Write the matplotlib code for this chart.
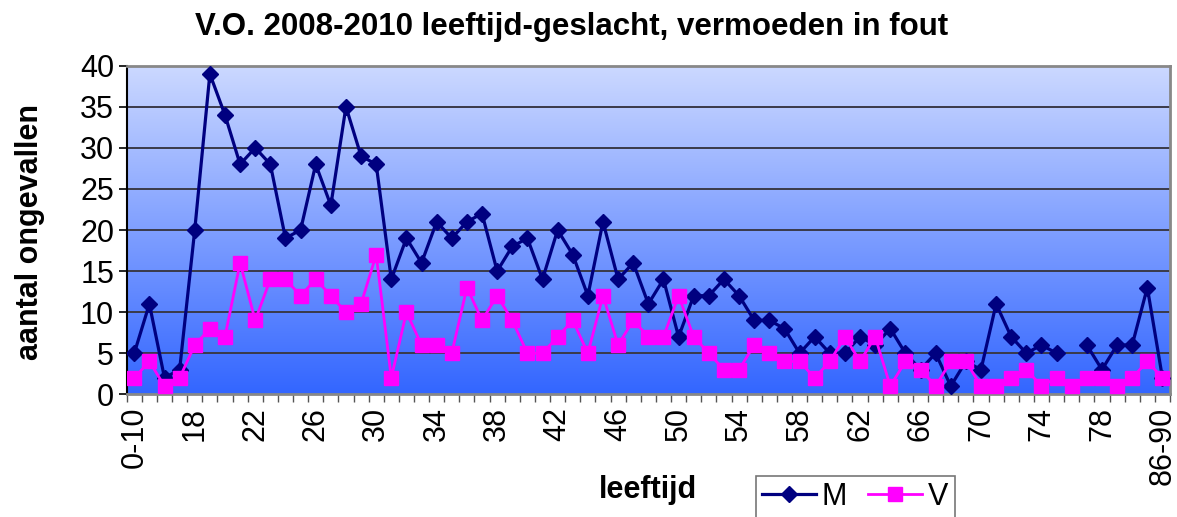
import matplotlib
matplotlib.use("Agg")
import matplotlib.pyplot as plt
from matplotlib.lines import Line2D
import numpy as np

plt.rcParams['font.family'] = ['Liberation Sans', 'DejaVu Sans']

categories = ["0-10", "11-14", "15-16", "17", "18", "19", "20", "21", "22", "23",
              "24", "25", "26", "27", "28", "29", "30", "31", "32", "33",
              "34", "35", "36", "37", "38", "39", "40", "41", "42", "43",
              "44", "45", "46", "47", "48", "49", "50", "51", "52", "53",
              "54", "55", "56", "57", "58", "59", "60", "61", "62", "63",
              "64", "65", "66", "67", "68", "69", "70", "71", "72", "73",
              "74", "75", "76", "77", "78", "79", "80", "81-85", "86-90"]

M = [5, 11, 2, 3, 20, 39, 34, 28, 30, 28,
     19, 20, 28, 23, 35, 29, 28, 14, 19, 16,
     21, 19, 21, 22, 15, 18, 19, 14, 20, 17,
     12, 21, 14, 16, 11, 14, 7, 12, 12, 14,
     12, 9, 9, 8, 5, 7, 5, 5, 7, 6,
     8, 5, 3, 5, 1, 4, 3, 11, 7, 5,
     6, 5, np.nan, 6, 3, 6, 6, 13, 2]

V = [2, 4, 1, 2, 6, 8, 7, 16, 9, 14,
     14, 12, 14, 12, 10, 11, 17, 2, 10, 6,
     6, 5, 13, 9, 12, 9, 5, 5, 7, 9,
     5, 12, 6, 9, 7, 7, 12, 7, 5, 3,
     3, 6, 5, 4, 4, 2, 4, 7, 4, 7,
     1, 4, 3, 1, 4, 4, 1, 1, 2, 3,
     1, 2, 1, 2, 2, 1, 2, 4, 2]

title = "V.O. 2008-2010 leeftijd-geslacht, vermoeden in fout"
ylabel = "aantal ongevallen"
xlabel = "leeftijd"
yticks = [0, 5, 10, 15, 20, 25, 30, 35, 40]

W, H = 1177, 517
fig = plt.figure(figsize=(W / 100, H / 100), dpi=100)
L, R, T, B = 126.7, 1170, 65.7, 394.3
ax = fig.add_axes([L / W, 1 - B / H, (R - L) / W, (B - T) / H])

x = np.arange(len(categories))
n = len(categories)

# gradient background
top = np.array([0.80, 0.85, 1.0])
bot = np.array([0.20, 0.40, 1.0])
t = np.linspace(0, 1, 256)[:, None]
grad = (top[None, :] * (1 - t) + bot[None, :] * t)[:, None, :]
ax.imshow(grad, extent=[-0.5, n - 0.5, 0, 40], aspect='auto', zorder=0,
          interpolation='bilinear', origin='upper')

for yv in yticks[1:]:
    ax.axhline(yv, color='#3a3a4a', lw=1.4, zorder=1)

ax.plot(x, M, color='#000080', lw=2.3, marker='D', ms=8.5,
        markerfacecolor='#000080', markeredgecolor='#000080', zorder=3, label='M')
ax.plot(x, V, color='#FF00FF', lw=2.0, marker='s', ms=10.5,
        markerfacecolor='#FF00FF', markeredgecolor='#FF00FF', zorder=4, label='V')

FS = 22
ax.set_xlim(-0.5, n - 0.5)
ax.set_ylim(0, 40)
ax.set_yticks(yticks)
ax.set_xticks(x[::4])
ax.set_xticklabels(categories[::4], rotation=90, fontsize=FS)
ax.set_xticks(np.arange(-0.5, n, 1.0), minor=True)
ax.tick_params(axis='x', which='major', length=0, pad=9)
ax.tick_params(axis='x', which='minor', length=6, width=1, color='#555555', direction='out')
ax.tick_params(axis='y', labelsize=FS, length=6, width=1.2, direction='out', pad=3)

for s in ['top', 'right']:
    ax.spines[s].set_color('#888888')
    ax.spines[s].set_linewidth(2)
ax.spines['left'].set_color('black')
ax.spines['left'].set_linewidth(1.5)
ax.spines['bottom'].set_color('#888888')
ax.spines['bottom'].set_linewidth(2)

fig.text(30 / W, 1 - 232 / H, ylabel, fontsize=FS, fontweight='bold',
         rotation=90, ha='center', va='center')
fig.text(648 / W, 1 - 490 / H, xlabel, fontsize=FS, fontweight='bold',
         ha='center', va='center')
fig.text(572 / W, 1 - 27 / H, title, fontsize=22.5, fontweight='bold',
         ha='center', va='center')

handles = [Line2D([], [], color='#000080', lw=2.3, marker='D', ms=8.5),
           Line2D([], [], color='#FF00FF', lw=2.0, marker='s', ms=10.5)]
leg = fig.legend(handles, ['M', 'V'], ncol=2, loc='upper left',
                 bbox_to_anchor=(756 / W, 1 - 476 / H), fontsize=FS,
                 frameon=True, fancybox=False, edgecolor='#555555',
                 handlelength=1.75, columnspacing=0.7, handletextpad=0.2,
                 borderpad=0.2, borderaxespad=0)
leg.get_frame().set_linewidth(1.2)

fig.savefig("out.png", dpi=100)
